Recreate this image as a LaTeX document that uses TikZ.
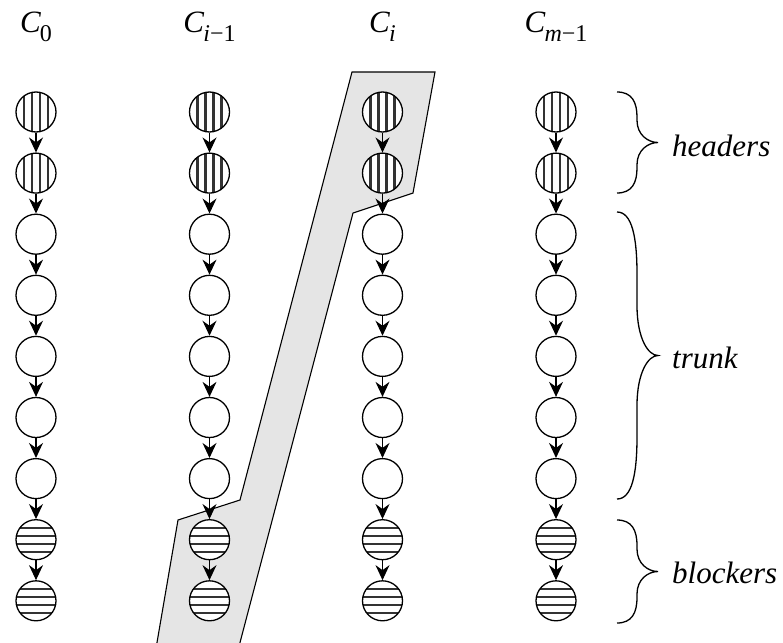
\documentclass[tikz,border=0pt]{standalone}
\usepackage{fontspec}
\setmainfont{LiberationSerif}[Extension=.ttf, UprightFont=*-Regular, ItalicFont=*-Italic, BoldFont=*-Bold, BoldItalicFont=*-BoldItalic]
\usetikzlibrary{arrows.meta}
\newcommand\mybrace[2]{%
  \pgfmathsetmacro\bm{(#1+#2)/2}%
  \pgfmathsetmacro\bh{(#2-#1)/2}%
  \pgfmathsetmacro\ba{0.4*\bh+5}%
  \pgfmathsetmacro\bb{0.3*\bh+7}%
  \draw[brc] (617,#1) .. controls (632,#1) and (637,#1+0.4*\ba) .. (637,#1+\ba)
    -- (637,\bm-\bb) .. controls (637,\bm-0.35*\bb) and (648,\bm) .. (658,\bm)
    .. controls (648,\bm) and (637,\bm+0.35*\bb) .. (637,\bm+\bb)
    -- (637,#2-\ba) .. controls (637,#2-0.4*\ba) and (632,#2) .. (617,#2);
}
\begin{document}
\begin{tikzpicture}[x=1pt,y=-1pt,
  circ/.style={circle, draw, line width=1.3pt, fill=white, minimum size=40pt, inner sep=0pt},
  hdr/.style={circ, path picture={\foreach \d in {-12,-4,4,12}{\draw[line width=2.2pt,black!80] ([xshift=\d pt]path picture bounding box.north) -- ([xshift=\d pt]path picture bounding box.south);}}},
  blk/.style={circ, path picture={\foreach \d in {-12,-4,4,12}{\draw[line width=2.2pt,black!80] ([yshift=\d pt]path picture bounding box.west) -- ([yshift=\d pt]path picture bounding box.east);}}},
  arr/.style={line width=1.1pt, -{Stealth[length=15pt,width=14pt,inset=5pt]}},
  lbl/.style={font=\fontsize{31}{31}\selectfont, anchor=base, inner sep=0pt},
  side/.style={font=\fontsize{31}{31}\selectfont\itshape, anchor=base west, inner sep=0pt},
  brc/.style={line width=1.3pt},
  band/.style={fill=black!10, draw, line width=1.1pt}]
\useasboundingbox (0,0) rectangle (783,642);
\clip (0,0) rectangle (783,642);
% gray band
\coordinate (A) at (352,72);
\coordinate (B) at (435,72);
\coordinate (C) at (413,193);
\coordinate (D) at (353,213);
\coordinate (E) at (235.4,660);
\coordinate (F) at (154,660);
\coordinate (G) at (178,520);
\coordinate (H) at (240,500);
\draw[band] (A) -- (B) -- (C) -- (D) -- (E) -- (F) -- (G) -- (H) -- cycle;
% columns
\foreach \i/\x in {0/36,1/209.5,2/382.5,3/556}{
  \foreach \r in {1,2}{\node[hdr] (n\i-\r) at (\x,{112+61.1*(\r-1)}) {};}
  \foreach \r in {3,...,7}{\node[circ] (n\i-\r) at (\x,{112+61.1*(\r-1)}) {};}
  \foreach \r in {8,9}{\node[blk] (n\i-\r) at (\x,{112+61.1*(\r-1)}) {};}
  \foreach \r [evaluate=\r as \s using int(\r+1)] in {1,...,8}{\draw[arr] (n\i-\r) -- (n\i-\s);}
}
% column labels
\node[lbl] (t0) at (36,33) {\textit{C}\kern-1pt\raisebox{-8.7pt}{\fontsize{24}{24}\selectfont 0}};
\node[lbl] (t1) at (209.5,33) {\textit{C}\kern-1pt\raisebox{-8.7pt}{\fontsize{24}{24}\selectfont\textit{i}−1}};
\node[lbl] (t2) at (382.5,33) {\textit{C}\kern-1pt\raisebox{-8.7pt}{\fontsize{24}{24}\selectfont\textit{i}}};
\node[lbl] (t3) at (556,33) {\textit{C}\kern-1pt\raisebox{-8.7pt}{\fontsize{24}{24}\selectfont\textit{m}−1}};
% braces
\mybrace{92}{193}
\mybrace{212}{499}
\mybrace{520}{623}
\node[side] (sh) at (672,156) {headers};
\node[side] (st) at (672,368) {trunk};
\node[side] (sb) at (672,583.5) {blockers};
\end{tikzpicture}
\end{document}
